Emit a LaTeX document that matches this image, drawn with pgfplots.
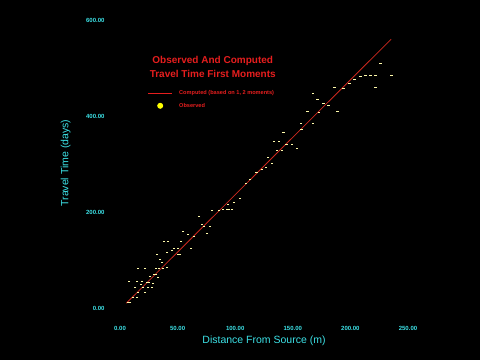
\documentclass[border=0pt]{standalone}
\usepackage{pgfplots}
\pgfplotsset{compat=1.18}
\usepackage{fontspec}
\setmainfont{Liberation Sans}
\definecolor{cyantxt}{RGB}{60,225,230}
\definecolor{linered}{RGB}{205,40,30}
\definecolor{titlered}{RGB}{230,30,30}
\definecolor{ptyellow}{RGB}{255,250,170}
\definecolor{dotyellow}{RGB}{255,255,0}
\pgfplotsset{
  lineleg/.style={legend image code/.code={\fill[fill=titlered, draw=none] (0pt,-0.7pt) rectangle (24pt,0.7pt);}},
  dotleg/.style={legend image code/.code={\path[draw=none] (0pt,0pt) -- (24pt,0pt); \fill[dotyellow, draw=none] (12pt,0pt) circle (3pt);}},
}
\begin{document}
\begin{tikzpicture}
\fill[black] (0,0) rectangle (480pt,360pt);
\begin{axis}[
  at={(120pt,52pt)}, anchor=south west,
  scale only axis, width=288pt, height=288pt,
  xmin=0, xmax=250, ymin=0, ymax=600,
  axis line style={draw=none},
  major tick length=0pt,
  xtick={0,50,100,150,200,250},
  ytick={0,200,400,600},
  /pgf/number format/assume math mode=true,
  /pgf/number format/fixed,
  /pgf/number format/precision=2,
  /pgf/number format/fixed zerofill,
  /pgf/number format/1000 sep={},
  ticklabel style={font=\bfseries\fontsize{6}{7}\selectfont, text=cyantxt},
  xticklabel style={yshift=-15pt},
  yticklabel style={xshift=-12pt},
  xlabel={Distance From Source (m)},
  ylabel={Travel Time (days)},
  label style={font=\fontsize{10.5}{12}\selectfont, text=cyantxt},
  xlabel style={at={(axis description cs:0.5,-0.1146)}, anchor=center},
  ylabel style={at={(axis description cs:-0.1885,0.503)}, anchor=center},
  title={Observed And Computed\\Travel Time First Moments},
  title style={at={(axis description cs:0.322,0.816)}, anchor=center, align=center,
    font=\bfseries\fontsize{10}{13.5}\selectfont, text=titlered},
  legend style={at={(axis description cs:0.0972,0.763)}, anchor=north west,
    draw=none, fill=none, text=titlered, font=\bfseries\fontsize{5.6}{7}\selectfont,
    inner sep=0pt, row sep=3pt, column sep=5pt},
  legend cell align=left,
  clip=false,
]
\addplot[color=linered, line width=0.8pt, lineleg]
  coordinates {(5.5,10) (235.4,560)};
\addlegendentry{Computed (based on 1, 2 moments)}
\addplot[only marks, mark=-, mark size=1.2pt, line width=0.9pt, color=ptyellow, dotleg]
  table[row sep=\\] {
x y\\
6.9 12.5\\ 8.7 12.5\\ 11.3 22.9\\ 14.7 22.9\\ 15.6 33.3\\ 21.7 33.3\\
13.0 43.8\\ 19.9 43.8\\ 24.3 43.8\\ 27.7 43.8\\ 18.2 50\\ 28.6 52.1\\
23.4 54.2\\ 25.1 54.2\\ 7.8 56.3\\ 14.7 56.3\\ 19.1 56.3\\ 32.9 64.6\\
26.0 66.7\\ 29.5 70.8\\ 31.2 70.8\\ 15.6 83.3\\ 21.7 83.3\\ 31.2 83.3\\
33.8 83.3\\ 37.3 83.3\\ 40.7 85.4\\ 36.4 95.8\\ 34.7 102.1\\ 32.1 112.5\\
50.3 112.5\\ 52.0 112.5\\ 40.7 116.7\\ 45.1 120.8\\ 46.8 125\\ 50.3 125\\
61.5 125\\ 38.1 139.6\\ 41.6 139.6\\ 52.9 139.6\\ 54.6 160.4\\ 58.9 154.2\\
64.1 150\\ 75.4 156.3\\ 71.1 175\\ 72.8 170.8\\ 78.0 170.8\\ 68.5 191.7\\
79.7 204.2\\ 85.8 204.2\\ 89.3 206.3\\ 92.7 206.3\\ 94.5 206.3\\ 97.1 206.3\\
93.6 216.7\\ 98.8 220.8\\ 104.0 229.2\\ 109.2 260.4\\ 112.7 268.8\\ 117.9 283.3\\
118.7 283.3\\ 123.1 289.6\\ 126.5 293.8\\ 131.7 302.1\\ 128.3 314.6\\ 136.1 329.2\\
140.4 329.2\\ 133.5 347.9\\ 137.8 347.9\\ 144.7 341.7\\ 149.1 341.7\\ 153.4 333.3\\
142.1 366.7\\ 156.9 385.4\\ 167.3 385.4\\ 157.7 372.9\\ 162.9 410.4\\ 172.5 408.3\\
188.9 410.4\\ 167.3 447.9\\ 171.6 435.4\\ 176.8 427.1\\ 181.1 422.9\\ 186.3 460.4\\
194.1 458.3\\ 199.3 468.8\\ 203.7 477.1\\ 208.9 483.3\\ 213.2 485.4\\ 217.5 485.4\\
221.9 485.4\\ 235.7 485.4\\ 221.9 460.4\\ 226.2 510.4\\
};
\addlegendentry{Observed}
\end{axis}
\end{tikzpicture}
\end{document}
